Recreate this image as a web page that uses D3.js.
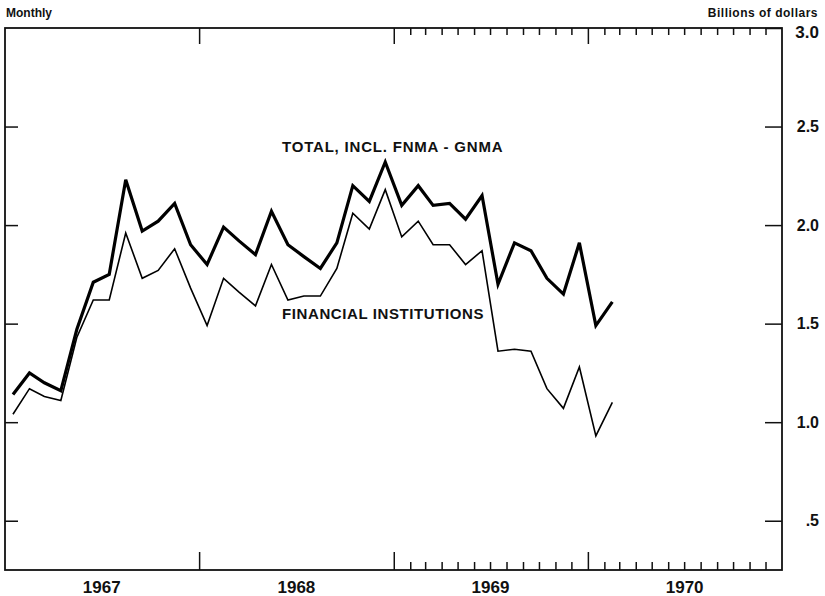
<!DOCTYPE html>
<html>
<head>
<meta charset="utf-8">
<script src="https://cdn.jsdelivr.net/npm/d3@7"></script>
<style>
  body { margin: 0; background: #fff; }
  svg { font-family: "Liberation Sans", Arial, sans-serif; font-weight: bold; }
</style>
</head>
<body>
<div id="chart"></div>
<script>
// monthly mortgage flows, billions of dollars
var months = [
  "1967-01","1967-02","1967-03","1967-04","1967-05","1967-06","1967-07","1967-08","1967-09","1967-10","1967-11","1967-12",
  "1968-01","1968-02","1968-03","1968-04","1968-05","1968-06","1968-07","1968-08","1968-09","1968-10","1968-11","1968-12",
  "1969-01","1969-02","1969-03","1969-04","1969-05","1969-06","1969-07","1969-08","1969-09","1969-10","1969-11","1969-12",
  "1970-01","1970-02"];
var total = [1.14,1.25,1.20,1.16,1.47,1.71,1.75,2.23,1.97,2.02,2.11,1.90,
             1.80,1.99,1.92,1.85,2.07,1.90,1.84,1.78,1.91,2.20,2.12,2.32,
             2.10,2.20,2.10,2.11,2.03,2.15,1.70,1.91,1.87,1.73,1.65,1.91,
             1.49,1.61];
var financial = [1.04,1.17,1.13,1.11,1.43,1.62,1.62,1.96,1.73,1.77,1.88,1.68,
                 1.49,1.73,1.66,1.59,1.80,1.62,1.64,1.64,1.78,2.06,1.98,2.18,
                 1.94,2.02,1.90,1.90,1.80,1.87,1.36,1.37,1.36,1.17,1.07,1.28,
                 0.93,1.10];
var years = [1967, 1968, 1969, 1970];
var yTicks = [0.5, 1.0, 1.5, 2.0, 2.5, 3.0];
var yTickLabels = [".5", "1.0", "1.5", "2.0", "2.5", "3.0"];

var width = 825, height = 596;
// plot frame (note: "top" is taken by window.top, so prefix these)
var pLeft = 5, pRight = 782, pTop = 28, pBottom = 570;

var parse = d3.timeParse("%Y-%m");
// points sit in the middle of each month
var dates = months.map(function (m) { return d3.timeDay.offset(parse(m), 15); });

var x = d3.scaleTime()
    .domain([new Date(1967, 0, 1), new Date(1971, 0, 1)])
    .range([pLeft, pRight]);
var y = d3.scaleLinear()
    .domain([0.25, 3.0])
    .range([pBottom, pTop]);

var svg = d3.select('#chart')
    .append('svg')
    .attr('width', width)
    .attr('height', height);

svg.append('rect').attr('width', width).attr('height', height).attr('fill', '#fff');

// year boundaries and monthly ticks (monthly only drawn in 1969-70)
var yearStarts = [1968, 1969, 1970].map(function (yr) { return new Date(yr, 0, 1); });
var minorMonths = d3.timeMonth.range(new Date(1969, 0, 1), new Date(1971, 0, 1))
    .filter(function (d) { return d.getMonth() !== 0; });

function tickAxis(axis, pos, vals, size) {
    var g = svg.append('g')
        .attr('transform', 'translate(0,' + pos + ')')
        .call(axis(x).tickValues(vals).tickSize(size).tickFormat(''));
    g.select('.domain').remove();
    g.selectAll('line').attr('stroke', '#111').attr('stroke-width', 1.5);
}
tickAxis(d3.axisBottom, pBottom, yearStarts, -18);
tickAxis(d3.axisBottom, pBottom, minorMonths, -8);
tickAxis(d3.axisTop, pTop, yearStarts, -16);
tickAxis(d3.axisTop, pTop, minorMonths, -7);

// year labels
var yl = svg.append('g')
    .attr('transform', 'translate(0,' + pBottom + ')')
    .call(d3.axisBottom(x)
        .tickValues(years.map(function (yr) { return new Date(yr, 6, 1); }))
        .tickSize(0).tickPadding(11)
        .tickFormat(d3.timeFormat('%Y')));
yl.select('.domain').remove();
yl.selectAll('text').attr('font-size', 17).attr('fill', '#111')
    .attr('font-family', '"Liberation Sans", Arial, sans-serif').attr('font-weight', 'bold');

// right value axis, ticks pointing inward
var ra = svg.append('g')
    .attr('transform', 'translate(' + pRight + ',0)')
    .call(d3.axisRight(y).tickValues(yTicks).tickSize(-17).tickPadding(37)
        .tickFormat(function (d, i) { return yTickLabels[i]; }));
ra.select('.domain').remove();
ra.selectAll('line').attr('stroke', '#111').attr('stroke-width', 1.5);
ra.selectAll('text').attr('text-anchor', 'end').attr('font-size', 16).attr('fill', '#111')
    .attr('font-family', '"Liberation Sans", Arial, sans-serif').attr('font-weight', 'bold');
// the top label sits a little below the frame corner
ra.selectAll('text').filter(function (d) { return d === 3.0; })
    .attr('y', 4).attr('font-size', 17);

var la = svg.append('g')
    .attr('transform', 'translate(' + pLeft + ',0)')
    .call(d3.axisLeft(y).tickValues(yTicks.slice(0, 5)).tickSize(-13).tickFormat(''));
la.select('.domain').remove();
la.selectAll('line').attr('stroke', '#111').attr('stroke-width', 1.5);

// frame
svg.append('rect')
    .attr('x', pLeft).attr('y', pTop)
    .attr('width', pRight - pLeft).attr('height', pBottom - pTop)
    .attr('fill', 'none').attr('stroke', '#111').attr('stroke-width', 1.8);

var line = d3.line()
    .x(function (d, i) { return x(dates[i]); })
    .y(function (d) { return y(d); });

svg.append('path').datum(total)
    .attr('d', line).attr('fill', 'none')
    .attr('stroke', '#000').attr('stroke-width', 3.2);

svg.append('path').datum(financial)
    .attr('d', line).attr('fill', 'none')
    .attr('stroke', '#000').attr('stroke-width', 1.6);

// labels
svg.append('text').attr('x', 282).attr('y', 152)
    .attr('font-size', 15).attr('letter-spacing', 0.8).attr('fill', '#111')
    .text('TOTAL, INCL. FNMA - GNMA');
svg.append('text').attr('x', 282).attr('y', 319)
    .attr('font-size', 15).attr('letter-spacing', 0.6).attr('fill', '#111')
    .text('FINANCIAL INSTITUTIONS');

svg.append('text').attr('x', 6).attr('y', 17)
    .attr('font-size', 12).attr('fill', '#111')
    .text('Monthly');
svg.append('text').attr('x', 818).attr('y', 17)
    .attr('text-anchor', 'end').attr('font-size', 12).attr('letter-spacing', 0.5).attr('fill', '#111')
    .text('Billions of dollars');
</script>
</body>
</html>
